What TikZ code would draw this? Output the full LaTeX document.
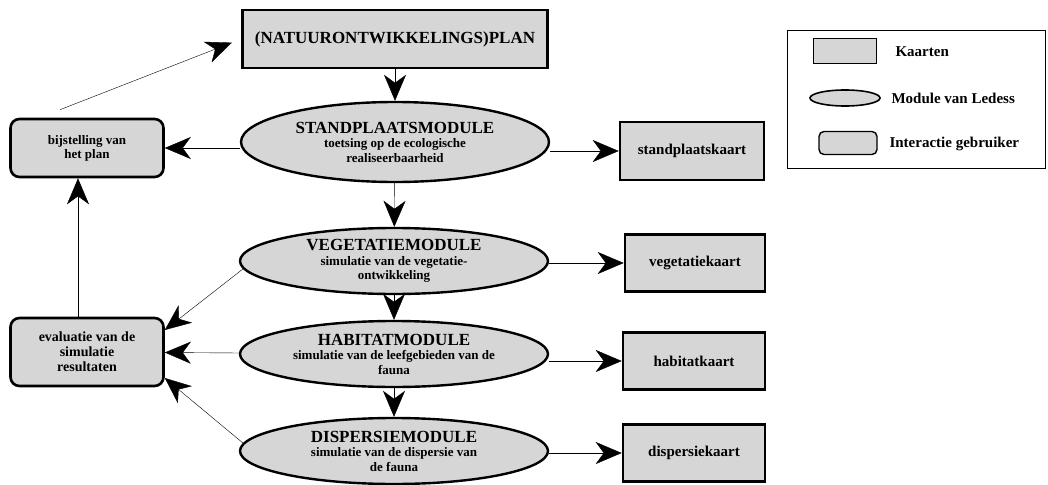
\documentclass[tikz,border=0pt]{standalone}
\usepackage{fontspec}
\setmainfont{Liberation Serif}
\usetikzlibrary{shapes.geometric,positioning,arrows.meta}
\tikzset{
	pijl/.style={-{Stealth[length=26pt,width=22pt,inset=8pt]}}, % big filled arrow heads
	kaart/.style={draw, line width=2.6pt, fill=gray!32, inner sep=0pt, font=\bfseries\fontsize{15}{17}\selectfont}, % map boxes
	module/.style={ellipse, draw, line width=2.4pt, fill=gray!32, inner sep=0pt, align=center, minimum width=308pt, minimum height=66pt, font=\bfseries\fontsize{13}{14.5}\selectfont}, % Ledess modules
	gebruiker/.style={draw, rounded corners=9pt, line width=2.6pt, fill=gray!32, inner sep=0pt, align=center, minimum width=153pt}, % user interaction
	uitleg/.style={font=\bfseries\fontsize{15}{17}\selectfont},
}
\newcommand{\kop}[1]{{\fontsize{17}{18}\selectfont #1}}

\begin{document}
\begin{tikzpicture}[x=1pt,y=-1pt]
	\useasboundingbox (0,0) rectangle (1048,484);
	% hoofdlijn
	\node[kaart,minimum width=305pt,minimum height=58pt,font=\bfseries\fontsize{17}{19}\selectfont] at (395,39) (plan) {(NATUURONTWIKKELINGS)PLAN};
	\node[module,minimum height=80pt] at (395,142) (stand) {\kop{STANDPLAATSMODULE}\\[0pt] toetsing op de ecologische\\ realiseerbaarheid};
	\node[module] at (394,261) (veg) {\kop{VEGETATIEMODULE}\\[0pt] simulatie van de vegetatie-\\ ontwikkeling};
	\node[module] at (394,354) (hab) {\kop{HABITATMODULE}\\[0pt] simulatie van de leefgebieden van de\\ fauna};
	\node[module] at (394,451) (dis) {\kop{DISPERSIEMODULE}\\[0pt] simulatie van de dispersie van\\ de fauna};
	% kaarten rechts
	\node[kaart,minimum width=144pt,minimum height=58pt] at (692,151) (standkaart) {standplaatskaart};
	\node[kaart,minimum width=140pt,minimum height=57pt] at (695,263) (vegkaart) {vegetatiekaart};
	\node[kaart,minimum width=142pt,minimum height=57pt] at (694,361) (habkaart) {habitatkaart};
	\node[kaart,minimum width=142pt,minimum height=57pt] at (694,453) (diskaart) {dispersiekaart};
	% interactie links
	\node[gebruiker,minimum height=58pt,font=\bfseries\fontsize{13}{14}\selectfont] at (87,148) (bij) {bijstelling van\\het plan};
	\node[gebruiker,minimum height=68pt,font=\bfseries\fontsize{14}{15}\selectfont] at (87,352) (eval) {evaluatie van de\\simulatie\\resultaten};
	% legenda
	\node[draw,line width=0.6pt,minimum width=258pt,minimum height=138pt] at (916,99) (legenda) {};
	\node[draw,line width=1.4pt,fill=gray!32,minimum width=63pt,minimum height=25pt] at (845,51) (lkaart) {};
	\node[ellipse,draw,line width=1.6pt,fill=gray!32,minimum width=70pt,minimum height=16pt,inner sep=0pt] at (845,98) (lmodule) {};
	\node[draw,rounded corners=5pt,line width=1.4pt,fill=gray!32,minimum width=58pt,minimum height=23pt] at (848,143) (lgebruiker) {};
	\node[uitleg,anchor=west] at (892,52) (tkaart) {Kaarten};
	\node[uitleg,anchor=west] at (888,98) (tmodule) {Module van Ledess};
	\node[uitleg,anchor=west] at (886,144) (tgebruiker) {Interactie gebruiker};

	\path[pijl] (plan) edge (stand)
		(stand) edge (veg)
		(veg) edge (hab)
		(hab) edge (dis)
		(standkaart.west -| stand.east) edge (standkaart)
		(vegkaart.west -| veg.east) edge (vegkaart)
		(habkaart.west -| hab.east) edge (habkaart)
		(diskaart.west -| dis.east) edge (diskaart)
		(bij.east -| stand.west) edge (bij)
		(veg.183) edge ([yshift=22pt]eval.east)
		(hab) edge (eval)
		(dis.177) edge ([yshift=-26pt]eval.east)
		([xshift=-9pt]eval.north) edge ([xshift=-9pt]bij.south)
		([xshift=-27pt,yshift=8pt]bij.north) edge[shorten >=10pt] (plan.west);
\end{tikzpicture}
\end{document}
